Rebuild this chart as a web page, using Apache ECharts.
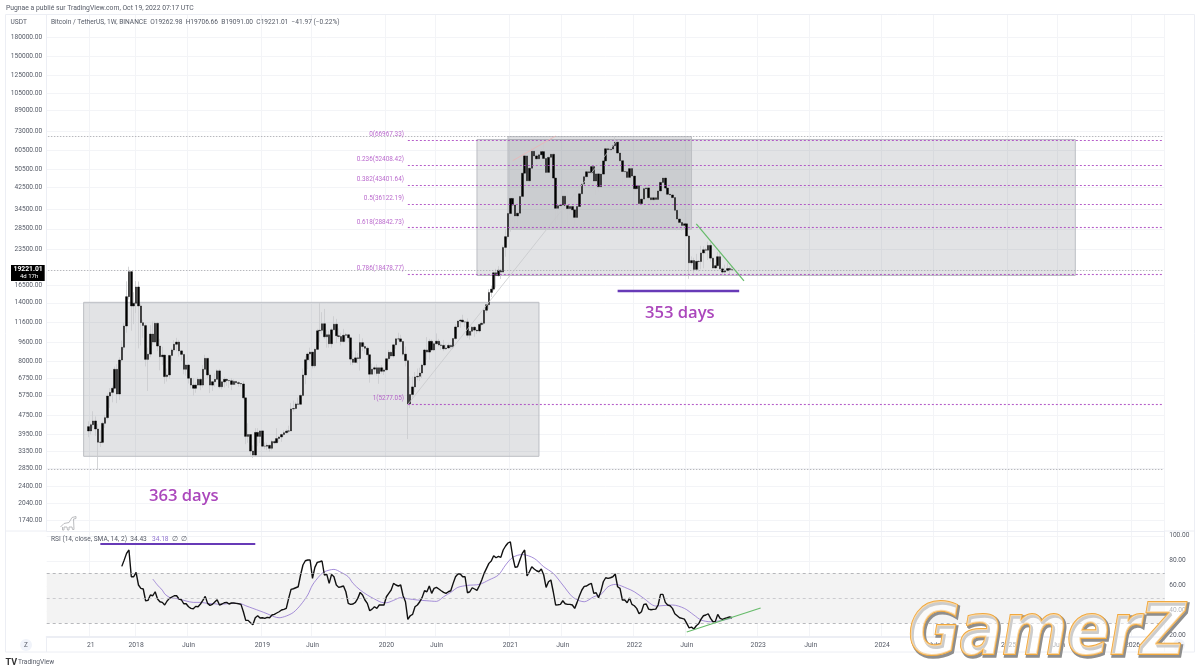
<!DOCTYPE html>
<html>
<head>
<meta charset="utf-8">
<script src="https://cdn.jsdelivr.net/npm/echarts@6/dist/echarts.min.js"></script>
<style>html,body{margin:0;background:#fff}#chart{width:1200px;height:672px}</style>
</head>
<body>
<div id="chart"></div>
<script>
// weekly candles, first week 2017-08-14
var bodyLevels = [4261,
  4086,4340,4500,4165,3670,3664,4397,4645,5717,5920,
  6160,7390,5830,8080,9130,11200,14850,18880,13580,13930,
  16300,13580,11570,11250,8130,8550,10370,9600,11500,9240,
  8340,8470,6890,7000,8440,8900,9400,9600,8820,8530,
  7390,7700,6780,6350,6160,6350,6710,6350,7390,8210,
  7000,6350,6560,6710,7280,6250,6550,6710,6640,6620,
  6390,6580,6500,6450,6420,5620,3880,3950,3370,3243,
  4030,3880,4090,3530,3530,3560,3460,3690,3650,3800,
  3860,3950,4020,4080,4090,5050,5070,5300,5280,5750,
  7000,8100,8560,8720,7640,8950,10700,10750,11450,10100,
  10300,9450,10800,11400,10200,10130,9650,10250,10300,10000,
  8150,7900,8250,8200,9550,9200,9050,8500,7050,7400,
  7500,7100,7500,7250,7350,8180,8700,8400,9350,9900,
  9900,9650,8550,8030,5300,5800,6240,6870,6910,7130,
  7700,8900,8720,9670,8900,9450,9680,9340,9300,9000,
  9070,9300,9170,9930,11100,11750,11850,11650,11650,10250,
  10650,11080,10770,10680,11370,11500,13030,13750,15470,15960,
  18680,18180,19150,18800,23830,26430,33000,38150,35800,32250,
  33100,38900,48600,57400,45200,51000,60000,57400,55800,58000,
  59800,56000,49000,56600,58300,46400,34700,35600,35800,39000,
  35600,34600,35300,34200,31800,35300,39900,43800,47000,49300,
  48800,51800,45100,48300,42700,48200,54700,61500,60900,61300,
  63300,65500,59000,54800,49400,49300,46700,50800,47300,41900,
  43100,36300,37900,41900,42200,38400,37700,38400,37800,41000,
  44500,46400,42150,39700,39450,38450,34050,31300,30300,29450,
  29900,26600,20550,21000,19300,20850,20800,22600,23300,23200,
  24300,21500,19550,20000,21800,19400,18800,19050,19440,19260,
  19221.01];
var highs = [
  4485,4400,4940,4700,4370,4120,4470,4780,5860,6170,
  6320,7590,7770,8300,9730,11500,17200,19798,19000,15500,
  17250,17180,13900,11900,11500,9100,11300,11700,11710,11600,
  9900,9170,8500,7450,8500,9030,9770,10000,9800,8900,
  8520,7780,7750,6750,6800,6530,6840,6800,7700,8500,
  8200,7150,6600,7100,7400,7420,6600,6850,6780,6650,
  6800,6700,6600,6600,6450,6600,5590,4400,3950,3560,
  4200,4200,4100,4000,3660,3650,3590,3750,3750,4200,
  3890,3990,4120,4150,4300,5350,5470,5390,5630,5840,
  7450,8380,8700,9100,8200,9100,10900,13970,12800,13200,
  10800,10700,11000,12300,12000,10950,10500,10900,10500,10350,
  10100,8850,8800,8640,10370,9950,9500,9200,8100,7800,
  7650,7750,7500,7700,7500,8200,8900,8800,9400,9950,
  10500,10300,9700,9200,8150,6900,6900,7200,7450,7500,
  7800,9000,10070,9900,9850,9600,10430,9900,9590,9800,
  9400,9470,9370,9990,11400,11800,12000,12480,11720,12050,
  10700,11200,11180,10950,11500,11720,13200,13860,15950,16500,
  18900,19400,19900,19420,24300,28400,34800,42000,40100,36700,
  38500,40900,49700,58400,52600,52400,61800,61500,58400,59500,
  61300,64900,56500,58500,59500,59500,47000,39500,39500,41300,
  41300,41000,36700,35100,34600,35400,40600,45300,48100,50500,
  50200,52900,47000,48500,45200,49300,56500,62900,64500,62500,
  64300,69000,60100,59400,59000,50800,49500,51900,51950,47500,
  44500,43500,38900,41900,45500,44800,44000,45400,42600,42300,
  48200,47500,47400,42500,43000,41000,40000,35000,31400,30600,
  31900,31700,26900,21870,21600,22400,21100,24200,24100,23700,
  25200,25200,21800,20500,22800,22700,19700,20200,20500,19900,
  19706.66];
var lows = [
  3850,3950,4200,3900,2817,3505,3625,4210,4580,5100,
  5380,6100,5340,5500,7900,8900,10500,14450,10700,11400,
  12700,9035,9300,10000,7600,6000,8300,9300,9500,8800,
  7320,7700,6430,6570,6750,7900,8730,8800,8350,8000,
  7050,6950,6450,6150,5750,5900,6300,6050,6200,7700,
  6800,5880,6000,6250,6720,6150,6100,6200,6300,6180,
  6050,6360,6350,6250,6250,5530,3600,3650,3250,3156,
  3230,3530,3640,3500,3430,3400,3350,3400,3600,3650,
  3670,3680,3880,3990,4000,4090,4920,5030,5250,5350,
  5680,6400,7400,8000,7450,7500,8900,9600,10400,9900,
  9100,9100,9100,10800,9500,9900,9300,9500,9650,9600,
  7700,7700,7850,7800,7300,8800,8600,8000,6500,7150,
  7050,6950,6430,7100,7000,7330,8000,8250,8250,9000,
  9700,9500,8400,7600,3782,5100,5650,5950,6650,6600,
  6800,7600,8100,8100,8800,8800,9370,9200,8900,8800,
  8900,9000,9000,9000,9800,11000,11000,11650,11100,10000,
  9830,10200,10100,10370,10500,11200,11300,12700,13200,14800,
  15700,16200,18000,17600,19000,21800,25900,27700,30400,28800,
  29200,32300,37300,47400,43000,44900,49900,53200,50400,56000,
  55500,52000,47000,49000,52900,43800,30000,31000,34300,31100,
  34000,28800,32700,32700,29300,31500,39400,40000,44600,47700,
  46500,47000,42900,39600,40700,47000,53900,57000,58900,56000,
  60600,62300,55600,53200,42000,45600,45500,46500,46000,39600,
  39650,34000,35500,36800,41700,36500,34300,37000,37150,36800,
  40800,44000,39000,39100,38000,37000,33200,28100,28600,28000,
  29300,26500,17620,20000,18600,19250,18900,19300,19500,22400,
  21100,20800,19500,19500,19600,19300,18150,18500,19000,18190,
  19091];

// RSI starts at week 14, black line
var rsiValues = [
  75.5,80.5,85.9,88.6,67.2,67.2,70.7,60.6,57.9,57.4,
  48,48.3,52.6,52,55.2,49.4,47.2,46.7,44.6,47.8,
  49.9,51,52,52,49.4,48.8,45.6,45.6,43.2,41.9,
  41.6,43.5,43.2,45.4,48.3,51.5,45.9,44.3,45.1,47,
  48.8,44.6,45.4,46.4,46.7,45.4,46.2,46.2,45.9,45.6,
  45.1,39.2,32.3,32.3,30.4,28.8,34.4,36,34.2,34.4,
  33.9,34.7,34.4,36.6,37.1,38.2,39.2,40.6,41.1,41.9,
  49.9,57.1,57.6,58.4,59.2,68.6,76.6,80,80.6,80.6,
  65.9,74.7,78.7,79.2,79.8,68.6,69.1,61.9,69.1,67.2,
  60.6,58.7,59.2,59.8,55.2,45.9,45.1,45.4,46.7,49.9,
  54.7,52.6,48.6,45.9,40,41.3,43.2,41.9,44.6,44.6,
  44.6,51.2,53.9,56.6,61.9,60.6,59.8,60.6,52,47.2,
  33.1,36,37.1,43.2,44.6,47.2,50.7,56,55.2,59.8,
  53.9,57.9,58.7,57.4,56,54.7,53.9,55.2,56,61.9,
  67.2,69.4,69.4,67.2,67.2,54.4,55.2,58.4,57.4,56.3,
  60,64.6,69.9,73.9,77.9,79.8,84,82.4,83.5,82.7,
  88.6,91.8,94.2,95.2,83.2,74.7,75.2,80.6,85.9,88.6,
  67.8,71.2,75.2,73.4,72,71.2,73.4,68.6,58.7,63.2,
  64.6,55.2,44.6,44.8,45.1,48,45.6,45.1,45.1,44.6,
  41.9,46.7,52,56.6,59.5,59.8,61.1,61.9,53.9,54.4,
  50.4,55.7,63.2,66.4,65.9,66.4,67.2,69.4,59.2,57.9,
  48.6,48.6,46.4,50.2,45.1,44,41.9,37.6,39.2,45.1,
  45.4,41.3,40.8,41.1,41.3,44.6,53.1,53.1,46.7,44.6,
  44,41.9,37.6,36,34.4,33.9,33.3,29.9,26.3,26.9,
  25.4,28,29.6,33.3,36,36.6,37.6,33.9,31.2,31.5,
  37.1,33.9,33.1,33.9,34.4,35,34.43];
// RSI smoothing line, read at the weeks listed
var smaWeeks = [27,29,31,32,34,36,38,41,44,47,50,53,55,58,61,64,66,69,72,75,78,80,83,86,89,92,94,97,99,103,106,109,111,114,117,120,123,125,128,131,
  134,138,142,146,149,152,155,159,164,168,172,175,178,182,187,191,195,199,203,206,208,212,215,218,221,226,229,233,238,245,250,254,257,261,265,270];
var smaValues = [65.4,60.5,56.5,53.5,50.7,50,49.4,47.8,46.7,46.7,45.9,45.6,45.1,45.6,45.9,45.6,44,41.9,39.8,37.6,35.2,34.4,35.8,38.7,44.6,52.6,60.6,68,71.2,73.1,70.7,67.2,61.9,56.6,52.6,49.4,46.7,46.4,48.3,50.5,
  49.6,48.6,48,47.5,51.2,54.7,58.7,60.3,61.1,64.6,68.6,76.6,82.7,85,81.9,75.2,69.9,60.6,51.2,48,47.2,51.2,53.1,59.2,61.1,57.9,55.2,49.9,43.8,44.6,41.9,36.6,32.6,31.2,32,34.18];

var priceTicks = [180000,150000,125000,105000,89000,73000,60500,50500,42500,34500,28500,23500,16500,14000,11600,9600,8000,6750,5750,4750,3950,3350,2850,2400,2040,1740];
var rsiTicks = [20,40,60,80,100];
var tickDates = ['2017-08-21','2018-01-01','2018-06-04','2019-01-07','2019-06-03','2020-01-06','2020-06-01','2021-01-04','2021-06-07','2022-01-03','2022-06-06','2023-01-02','2023-06-05','2024-01-01','2024-06-03','2025-01-06','2025-06-02','2026-01-05'];
var tickTexts = ['21','2018','Juin','2019','Juin','2020','Juin','2021','Juin','2022','Juin','2023','Juin','2024','Juin','2025','Juin','2026'];

var fibLevels = ['0','0.236','0.382','0.5','0.618','0.786','1'];
var fibPrices = [66967.33,52408.42,43401.64,36122.19,28842.73,18478.77,5277.05];
var grayLevels = [69000,19221.01,2817];

// the time axis runs on weeks, the first candle sits 17 weeks in
var firstWeek = 17;
var weekCount = 469;
var categories = [];
for (var k = 0; k < weekCount; k++) {
  categories.push(new Date(Date.UTC(2017, 3, 17) + k * 7 * 864e5).toISOString().slice(0, 10));
}
var wickData = [], bodyData = [];
for (var i = 0; i < highs.length; i++) {
  var o = bodyLevels[i], c = bodyLevels[i + 1];
  wickData.push([firstWeek + i, o, c, lows[i], highs[i]]);
  bodyData.push([firstWeek + i, o, c, Math.min(o, c), Math.max(o, c)]);
}
var rsiData = rsiValues.map(function (v, i) { return [firstWeek + 14 + i, v]; });
var smaData = smaValues.map(function (v, i) { return [firstWeek + smaWeeks[i], v]; });
var isTick = function (index, value) { return tickDates.indexOf(value) >= 0; };

var fibColor = '#a943c0';
var gridColor = '#f3f4f7';
var frameColor = '#eceef4';
var textColor = '#555a66';
var smallFont = 'Roboto, sans-serif';

function seg(x1, y1, x2, y2, style) {
  return [{coord: [x1, y1], lineStyle: style}, {coord: [x2, y2]}];
}
var priceMarks = [];
fibPrices.forEach(function (p) {
  priceMarks.push(seg(151, p, weekCount - 1, p, {color: fibColor, type: [2, 2], width: 1.1, opacity: 0.85}));
});
grayLevels.forEach(function (p) {
  priceMarks.push(seg(0, p, weekCount - 1, p, {color: '#a4a6ac', type: [1.5, 1.5], width: 0.8}));
});
priceMarks.push(seg(151, 5277.05, 239, 66967.33, {color: '#c8c9cc', type: 'solid', width: 0.8}));
priceMarks.push(seg(195, 54830, 213, 69500, {color: '#eeb4b4', type: 'solid', width: 0.8}));
priceMarks.push(seg(272, 29850, 292, 17265, {color: '#66bb6a', type: 'solid', width: 1.2}));
priceMarks.push(seg(239, 15684, 290, 15684, {color: '#673ab7', type: 'solid', width: 2.4}));

var boxStyle = {color: 'rgba(120,123,134,0.21)', borderColor: '#bcbec3', borderWidth: 1};

function txt(x, y, text, size, fill, extra) {
  var style = {x: x, y: y, text: text, fill: fill, font: size + 'px ' + smallFont, textVerticalAlign: 'middle'};
  for (var key in extra) style[key] = extra[key];
  return {type: 'text', z: 50, silent: true, style: style};
}

var myChart = echarts.init(document.getElementById('chart'));
var option = {
  animation: false,
  backgroundColor: '#fff',
  grid: [
    {left: 46.7, top: 15, width: 1118, height: 516},
    {left: 46.7, top: 531, width: 1118, height: 106}
  ],
  xAxis: [
    {type: 'category', gridIndex: 0, data: categories, axisLabel: {show: false}, axisTick: {show: false, alignWithLabel: true},
      axisLine: {lineStyle: {color: frameColor}}, splitLine: {show: true, interval: isTick, lineStyle: {color: gridColor}}},
    {type: 'category', gridIndex: 1, data: categories, axisTick: {show: false, alignWithLabel: true},
      axisLine: {lineStyle: {color: frameColor, width: 2}}, splitLine: {show: true, interval: isTick, lineStyle: {color: gridColor}},
      axisLabel: {interval: isTick, margin: 5, fontSize: 6.8, fontFamily: smallFont, color: textColor, hideOverlap: false,
        formatter: function (v) { return tickTexts[tickDates.indexOf(v)]; }}}
  ],
  yAxis: [
    {type: 'log', logBase: 10, gridIndex: 0, min: 1563.6, max: 222200, position: 'left',
      axisLine: {show: true, lineStyle: {color: frameColor}},
      axisTick: {show: false, customValues: priceTicks},
      splitLine: {show: true, lineStyle: {color: gridColor}},
      axisLabel: {customValues: priceTicks, margin: 4.5, fontSize: 6.6, fontFamily: smallFont, color: textColor,
        formatter: function (v) { return Number(v).toFixed(2); }}},
    {type: 'value', gridIndex: 1, min: 19, max: 103.8, position: 'right',
      axisLine: {show: true, lineStyle: {color: frameColor}},
      axisTick: {show: false, customValues: rsiTicks},
      splitLine: {show: true, lineStyle: {color: gridColor}},
      axisLabel: {customValues: rsiTicks, margin: 4.5, fontSize: 6.6, fontFamily: smallFont, color: textColor,
        formatter: function (v) { return Number(v).toFixed(2); }}}
  ],
  series: [
    {name: 'wicks', type: 'candlestick', xAxisIndex: 0, yAxisIndex: 0, data: wickData, encode: {x: 0, y: [1, 2, 3, 4]}, barWidth: 1, z: 2, silent: true,
      itemStyle: {color: '#c9cacd', color0: '#c9cacd', borderColor: '#c9cacd', borderColor0: '#c9cacd', borderWidth: 0.8},
      markArea: {silent: true, itemStyle: boxStyle, data: [
        [{coord: [15, 14065]}, {coord: [206, 3204]}],
        [{coord: [180, 67200]}, {coord: [431, 18197]}],
        [{coord: [193, 69040]}, {coord: [270, 28370]}]
      ]},
      markLine: {silent: true, symbol: 'none', label: {show: false}, animation: false, data: priceMarks}},
    {name: 'bodies', type: 'candlestick', xAxisIndex: 0, yAxisIndex: 0, data: bodyData, encode: {x: 0, y: [1, 2, 3, 4]}, barWidth: 2, z: 3, silent: true,
      itemStyle: {color: '#000', color0: '#000', borderColor: '#000', borderColor0: '#000', borderWidth: 0.4}},
    {name: 'fib labels', type: 'scatter', xAxisIndex: 0, yAxisIndex: 0, symbolSize: 1, silent: true, z: 6,
      itemStyle: {color: 'transparent'},
      data: fibPrices.map(function (p, i) { return {value: [150, p], name: fibLevels[i] + '(' + p.toFixed(2) + ')'}; }),
      label: {show: true, position: 'left', distance: 1, offset: [0, -5.5], formatter: '{b}', color: fibColor, fontSize: 6.4, fontFamily: smallFont}},
    {name: 'RSI', type: 'line', xAxisIndex: 1, yAxisIndex: 1, data: rsiData, showSymbol: false, z: 4, silent: true,
      lineStyle: {color: '#111', width: 1.4},
      markArea: {silent: true, itemStyle: {color: '#f3f3f3'}, data: [[{yAxis: 70}, {yAxis: 30}]]},
      markLine: {silent: true, symbol: 'none', label: {show: false}, animation: false, data: [
        {yAxis: 70, lineStyle: {color: '#a6a8ad', type: [3, 3], width: 0.8}},
        {yAxis: 50, lineStyle: {color: '#c0c1c6', type: [3, 3], width: 0.8}},
        {yAxis: 30, lineStyle: {color: '#a6a8ad', type: [3, 3], width: 0.8}},
        seg(22, 93.4, 87, 93.4, {color: '#673ab7', type: 'solid', width: 2.2}),
        seg(268, 23, 299, 42.2, {color: '#66bb6a', type: 'solid', width: 1.2})
      ]}},
    {name: 'RSI SMA', type: 'line', xAxisIndex: 1, yAxisIndex: 1, data: smaData, showSymbol: false, z: 3, silent: true, smooth: 0.3,
      lineStyle: {color: '#8f72cf', width: 0.8}}
  ],
  graphic: [
    {type: 'rect', z: 40, silent: true, shape: {x: 5.5, y: 14.5, width: 1189, height: 637.5}, style: {fill: 'none', stroke: frameColor, lineWidth: 1}},
    {type: 'line', z: 40, silent: true, shape: {x1: 46.5, y1: 637, x2: 46.5, y2: 652}, style: {stroke: frameColor}},
    {type: 'line', z: 40, silent: true, shape: {x1: 1164.5, y1: 637, x2: 1164.5, y2: 652}, style: {stroke: frameColor}},
    {type: 'line', z: 40, silent: true, shape: {x1: 5.5, y1: 531, x2: 46.5, y2: 531}, style: {stroke: frameColor}},
    {type: 'line', z: 40, silent: true, shape: {x1: 1164.5, y1: 531, x2: 1194.5, y2: 531}, style: {stroke: frameColor}},
    txt(6, 8, 'Pugnae a publié sur TradingView.com, Oct 19, 2022 07:17 UTC', 6.8, '#555a66'),
    txt(10.5, 22, 'USDT', 6.6, textColor),
    txt(51, 22.5, 'Bitcoin / TetherUS, 1W, BINANCE  O19262.98  H19706.66  B19091.00  C19221.01  −41.97 (−0.22%)', 6.6, textColor),
    txt(51, 539.5, 'RSI (14, close, SMA, 14, 2)  34.43', 6.6, textColor),
    txt(152, 539.5, '34.18', 6.6, '#8f72cf'),
    txt(172, 539.5, '∅  ∅', 6.6, textColor),
    {type: 'rect', z: 45, silent: true, shape: {x: 11, y: 265, width: 33.7, height: 16}, style: {fill: '#000'}},
    txt(13.5, 269.8, '19221.01', 6.8, '#fff', {font: 'bold 6.8px ' + smallFont}),
    txt(20, 276.8, '4d 17h', 6, '#fff'),
    txt(149, 496, '363 days', 16.6, '#ab47bc', {font: '600 16.6px "Open Sans", sans-serif'}),
    txt(645, 313, '353 days', 16.6, '#ab47bc', {font: '600 16.6px "Open Sans", sans-serif'}),
    // small dinosaur marker above the RSI pane
    {type: 'polyline', z: 45, silent: true, shape: {points: [[60.5,527],[64,523.5],[69,522.5],[72,517.5],[76,516.5],[76,518.5],[73.5,519],[74,529.5],[72.5,529.5],[72,527],[69,527],[69,530],[67.5,530],[67,527],[64,527],[64,530],[62.5,530],[62.5,527]]},
      style: {fill: 'none', stroke: '#b4b5b9', lineWidth: 0.9}},
    {type: 'circle', z: 45, silent: true, shape: {cx: 26, cy: 645, r: 6}, style: {fill: '#f0f3fa'}},
    txt(26, 645, 'Z', 6.4, textColor, {textAlign: 'center'}),
    {type: 'circle', z: 45, silent: true, shape: {cx: 1179, cy: 645, r: 6}, style: {fill: '#f0f3fa'}},
    txt(1179, 645, 'A', 6.4, textColor, {textAlign: 'center'}),
    txt(5.5, 662.5, 'TV', 9, '#333', {font: 'bold 9px ' + smallFont}),
    txt(18, 662.5, 'TradingView', 6.6, '#555a66'),
    // watermark
    {type: 'text', z: 60, silent: true, x: 910, y: 637, scaleY: 1.14, style: {x: 0, y: 0, text: 'GamerZ', font: 'italic bold 62.5px "DejaVu Sans"', textVerticalAlign: 'middle', fill: 'none', stroke: '#8e8e8e', lineWidth: 3}},
    {type: 'text', z: 61, silent: true, x: 908.5, y: 635.5, scaleY: 1.14, style: {x: 0, y: 0, text: 'GamerZ', font: 'italic bold 62.5px "DejaVu Sans"', textVerticalAlign: 'middle', fill: 'rgba(255,255,255,0.55)', stroke: '#f0a83e', lineWidth: 1.8}}
  ]
};
myChart.setOption(option);
</script>
</body>
</html>
